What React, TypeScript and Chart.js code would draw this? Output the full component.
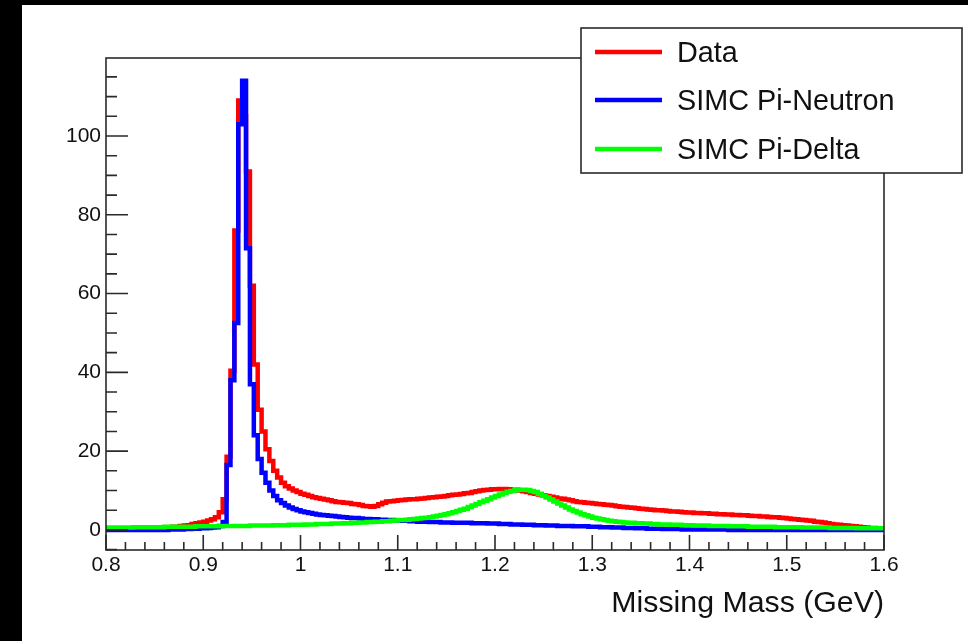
import React, { useEffect, useRef } from "react";
import { Chart, registerables } from "chart.js";

Chart.register(...registerables);

// Histogram binning (GeV)
const X_MIN = 0.8;
const X_MAX = 1.6;
const BIN_WIDTH = 0.004;
const Y_MIN = -5.1;
const Y_MAX = 119.8;

const X_MAJOR_TICKS = [0.8, 0.9, 1.0, 1.1, 1.2, 1.3, 1.4, 1.5, 1.6];
const X_TICK_LABELS = ["0.8", "0.9", "1", "1.1", "1.2", "1.3", "1.4", "1.5", "1.6"];
const X_MINOR_STEP = 0.02;
const Y_MAJOR_TICKS = [0, 20, 40, 60, 80, 100];
const Y_TICK_LABELS = ["0", "20", "40", "60", "80", "100"];
const Y_MINOR_STEP = 5;

const SERIES_LABELS = ["Data", "SIMC Pi-Neutron", "SIMC Pi-Delta"];
const SERIES_COLORS = ["#ff0000", "#0000ff", "#00ff00"];
const X_TITLE = "Missing Mass (GeV)";

// 200 bins, 0.8 .. 1.6 GeV
const DATA = [
  0.2, 0.3, 0.2, 0.3, 0.3, 0.2, 0.3, 0.4, 0.3, 0.4,
  0.4, 0.5, 0.4, 0.5, 0.6, 0.6, 0.7, 0.8, 0.8, 1.0,
  1.1, 1.2, 1.5, 1.7, 1.9, 2.1, 2.4, 2.7, 3.2, 4.5,
  7.8, 18.6, 40.4, 76, 109, 105, 91, 62, 42, 30.5,
  25, 20.5, 17.5, 15, 13.3, 12, 11.1, 10.5, 10.0, 9.6,
  9.2, 8.9, 8.6, 8.3, 8.1, 7.9, 7.7, 7.5, 7.3, 7.1,
  7.0, 6.9, 6.8, 6.6, 6.5, 6.3, 6.1, 6.0, 5.9, 6.1,
  6.5, 6.9, 7.2, 7.3, 7.4, 7.5, 7.6, 7.7, 7.8, 7.8,
  7.9, 8.0, 8.1, 8.2, 8.3, 8.4, 8.5, 8.6, 8.8, 8.9,
  9.0, 9.1, 9.3, 9.4, 9.6, 9.8, 10.0, 10.1, 10.2, 10.3,
  10.3, 10.4, 10.4, 10.3, 10.2, 10.2, 10.0, 9.8, 9.6, 9.4,
  9.2, 9.0, 8.8, 8.6, 8.4, 8.2, 8.0, 7.9, 7.7, 7.5,
  7.3, 7.1, 7.0, 6.9, 6.8, 6.7, 6.6, 6.5, 6.4, 6.3,
  6.2, 6.0, 5.9, 5.8, 5.7, 5.6, 5.5, 5.4, 5.3, 5.2,
  5.1, 5.0, 5.0, 4.9, 4.8, 4.7, 4.7, 4.6, 4.5, 4.4,
  4.4, 4.3, 4.3, 4.2, 4.2, 4.1, 4.1, 4.0, 4.0, 3.9,
  3.9, 3.8, 3.8, 3.7, 3.7, 3.6, 3.5, 3.5, 3.4, 3.4,
  3.3, 3.2, 3.2, 3.1, 3.0, 2.9, 2.8, 2.7, 2.6, 2.5,
  2.4, 2.3, 2.1, 2.0, 1.9, 1.7, 1.5, 1.4, 1.3, 1.2,
  1.1, 1.0, 0.9, 0.8, 0.7, 0.6, 0.5, 0.5, 0.4, 0.3,
];

const PI_NEUTRON = [
  0, 0, 0, 0, 0, 0, 0, 0, 0, 0,
  0, 0, 0, 0, 0, 0, 0.1, 0.1, 0.1, 0.1,
  0.2, 0.2, 0.3, 0.3, 0.4, 0.4, 0.5, 0.6, 0.7, 1.0,
  2.0, 16.5, 38, 52.5, 103, 114, 71.5, 37, 24, 18,
  14.5, 12, 10, 8.6, 7.5, 6.8, 6.2, 5.7, 5.3, 5.0,
  4.7, 4.5, 4.3, 4.1, 3.9, 3.8, 3.7, 3.6, 3.5, 3.4,
  3.3, 3.2, 3.1, 3.0, 3.0, 2.9, 2.8, 2.8, 2.7, 2.7,
  2.6, 2.6, 2.5, 2.5, 2.4, 2.4, 2.3, 2.3, 2.2, 2.2,
  2.1, 2.1, 2.1, 2.0, 2.0, 2.0, 1.9, 1.9, 1.9, 1.8,
  1.8, 1.8, 1.8, 1.8, 1.7, 1.7, 1.7, 1.7, 1.6, 1.6,
  1.6, 1.5, 1.5, 1.5, 1.4, 1.4, 1.4, 1.3, 1.3, 1.3,
  1.2, 1.2, 1.2, 1.1, 1.1, 1.1, 1.0, 1.0, 1.0, 1.0,
  0.9, 0.9, 0.9, 0.9, 0.8, 0.8, 0.8, 0.7, 0.7, 0.7,
  0.6, 0.6, 0.6, 0.5, 0.5, 0.5, 0.4, 0.4, 0.4, 0.3,
  0.3, 0.3, 0.3, 0.2, 0.2, 0.2, 0.2, 0.2, 0.1, 0.1,
  0.1, 0.1, 0.1, 0.1, 0.1, 0.1, 0.1, 0.1, 0.1, 0.1,
  0, 0, 0, 0, 0, 0, 0, 0, 0, 0,
  0, 0, 0, 0, 0, 0, 0, 0, 0, 0,
  0, 0, 0, 0, 0, 0, 0, 0, 0, 0,
  0, 0, 0, 0, 0, 0, 0, 0, 0, 0,
];

const PI_DELTA = [
  0.6, 0.6, 0.6, 0.6, 0.6, 0.6, 0.6, 0.7, 0.7, 0.7,
  0.7, 0.7, 0.7, 0.7, 0.7, 0.8, 0.8, 0.8, 0.8, 0.8,
  0.8, 0.8, 0.8, 0.9, 0.9, 0.9, 0.9, 0.9, 0.9, 0.9,
  1.0, 1.0, 1.0, 1.0, 1.0, 1.0, 1.0, 1.1, 1.1, 1.1,
  1.1, 1.1, 1.1, 1.2, 1.2, 1.2, 1.2, 1.3, 1.3, 1.3,
  1.3, 1.4, 1.4, 1.4, 1.5, 1.5, 1.5, 1.5, 1.6, 1.6,
  1.6, 1.7, 1.7, 1.8, 1.8, 1.9, 1.9, 2.0, 2.0, 2.1,
  2.1, 2.2, 2.2, 2.3, 2.4, 2.5, 2.5, 2.6, 2.7, 2.8,
  2.9, 3.0, 3.1, 3.2, 3.4, 3.6, 3.8, 4.0, 4.2, 4.5,
  4.8, 5.1, 5.4, 5.8, 6.2, 6.6, 7.0, 7.4, 7.8, 8.2,
  8.6, 9.0, 9.4, 9.7, 9.9, 10.1, 10.2, 10.2, 10.1, 9.9,
  9.6, 9.2, 8.7, 8.2, 7.7, 7.2, 6.7, 6.2, 5.7, 5.2,
  4.8, 4.4, 4.0, 3.7, 3.4, 3.1, 2.9, 2.7, 2.5, 2.3,
  2.2, 2.1, 2.0, 1.9, 1.8, 1.8, 1.7, 1.7, 1.6, 1.6,
  1.5, 1.5, 1.4, 1.4, 1.4, 1.3, 1.3, 1.3, 1.2, 1.2,
  1.2, 1.1, 1.1, 1.1, 1.1, 1.0, 1.0, 1.0, 1.0, 1.0,
  0.9, 0.9, 0.9, 0.9, 0.9, 0.8, 0.8, 0.8, 0.8, 0.8,
  0.8, 0.8, 0.7, 0.7, 0.7, 0.7, 0.7, 0.7, 0.7, 0.6,
  0.6, 0.6, 0.6, 0.6, 0.6, 0.6, 0.5, 0.5, 0.5, 0.5,
  0.5, 0.5, 0.5, 0.4, 0.4, 0.4, 0.4, 0.4, 0.4, 0.4,
];

const FONT = "'Liberation Sans', Arial, Helvetica, sans-serif";

function histPoints(values: number[]) {
  const pts = values.map((v, k) => ({ x: +(X_MIN + k * BIN_WIDTH).toFixed(4), y: v }));
  pts.push({ x: X_MAX, y: values[values.length - 1] });
  return pts;
}

const xTickValues: number[] = [];
for (let i = 0; X_MIN + i * X_MINOR_STEP <= X_MAX + 1e-9; i++) {
  xTickValues.push(+(X_MIN + i * X_MINOR_STEP).toFixed(4));
}
const yTickValues: number[] = [];
for (let v = Math.ceil(Y_MIN / Y_MINOR_STEP) * Y_MINOR_STEP; v <= Y_MAX; v += Y_MINOR_STEP) {
  yTickValues.push(v);
}

const rootPlugin = {
  id: "rootFrame",
  afterDatasetsDraw(chart: any) {
    const { ctx, chartArea: a, scales } = chart;
    const xs = scales.x;
    const ys = scales.y;
    ctx.save();
    // frame
    ctx.strokeStyle = "#2a2a2a";
    ctx.lineWidth = 1.6;
    ctx.strokeRect(a.left, a.top, a.right - a.left, a.bottom - a.top);
    // inward ticks
    ctx.beginPath();
    ys.ticks.forEach((t: any) => {
      const p = ys.getPixelForValue(t.value);
      const major = Y_MAJOR_TICKS.some((m) => Math.abs(m - t.value) < 1e-6);
      ctx.moveTo(a.left, p);
      ctx.lineTo(a.left + (major ? 22 : 11), p);
    });
    xs.ticks.forEach((t: any) => {
      const p = xs.getPixelForValue(t.value);
      const major = X_MAJOR_TICKS.some((m) => Math.abs(m - t.value) < 1e-6);
      ctx.moveTo(p, a.bottom);
      ctx.lineTo(p, a.bottom - (major ? 15 : 8));
    });
    ctx.stroke();

    // legend box
    const bx = 559, by = 23, bw = 381, bh = 145;
    ctx.fillStyle = "#ffffff";
    ctx.fillRect(bx, by, bw, bh);
    ctx.strokeStyle = "#2a2a2a";
    ctx.lineWidth = 1.6;
    ctx.strokeRect(bx, by, bw, bh);
    const rows = [47, 95, 144];
    chart.data.datasets.forEach((ds: any, i: number) => {
      const y = rows[i];
      ctx.strokeStyle = ds.borderColor;
      ctx.lineWidth = 4.5;
      ctx.beginPath();
      ctx.moveTo(573, y);
      ctx.lineTo(640, y);
      ctx.stroke();
      ctx.fillStyle = "#111";
      ctx.font = `28.8px ${FONT}`;
      ctx.textBaseline = "middle";
      ctx.textAlign = "left";
      ctx.fillText(ds.label, 655, y + 2);
    });
    ctx.restore();
  },
};

export default function App() {
  const ref = useRef<HTMLCanvasElement | null>(null);

  useEffect(() => {
    if (!ref.current) return;
    const series = [DATA, PI_NEUTRON, PI_DELTA];
    const chart = new Chart(ref.current, {
      type: "line",
      data: {
        datasets: series.map((vals, i) => ({
          label: SERIES_LABELS[i],
          data: histPoints(vals),
          borderColor: SERIES_COLORS[i],
          backgroundColor: SERIES_COLORS[i],
          borderWidth: 4.5,
          pointRadius: 0,
          stepped: "before" as const,
          fill: false,
          order: 3 - i,
          borderJoinStyle: "miter" as const,
        })),
      },
      options: {
        responsive: false,
        animation: false,
        events: [],
        layout: { padding: { left: 0, top: 53, right: 84, bottom: 0 } },
        plugins: {
          legend: { display: false },
          tooltip: { enabled: false },
        },
        scales: {
          x: {
            type: "linear",
            min: X_MIN,
            max: X_MAX,
            grid: { display: false, drawTicks: false },
            border: { display: false },
            afterBuildTicks: (scale: any) => {
              scale.ticks = xTickValues.map((v) => ({ value: v }));
            },
            afterFit: (scale: any) => {
              scale.height = 91;
            },
            ticks: {
              autoSkip: false,
              maxRotation: 0,
              minRotation: 0,
              padding: 3,
              color: "#111",
              font: { family: FONT, size: 21 },
              callback: (value: any) => {
                const idx = X_MAJOR_TICKS.findIndex((m) => Math.abs(m - value) < 1e-6);
                return idx >= 0 ? X_TICK_LABELS[idx] : "";
              },
            },
            title: {
              display: true,
              text: X_TITLE,
              align: "end",
              color: "#111",
              font: { family: FONT, size: 30.3 },
              padding: { top: 0, bottom: 19 },
            },
          },
          y: {
            type: "linear",
            min: Y_MIN,
            max: Y_MAX,
            grid: { display: false, drawTicks: false },
            border: { display: false },
            afterBuildTicks: (scale: any) => {
              scale.ticks = yTickValues.map((v) => ({ value: v }));
            },
            afterFit: (scale: any) => {
              scale.width = 84;
            },
            ticks: {
              autoSkip: false,
              padding: 5,
              color: "#111",
              font: { family: FONT, size: 21 },
              callback: (value: any) => {
                const idx = Y_MAJOR_TICKS.findIndex((m) => Math.abs(m - value) < 1e-6);
                return idx >= 0 ? Y_TICK_LABELS[idx] : "";
              },
            },
          },
        },
      },
      plugins: [rootPlugin],
    });
    return () => chart.destroy();
  }, []);

  return (
    <div
      style={{
        position: "fixed",
        left: 0,
        top: 0,
        width: 968,
        height: 641,
        background: "#000",
        overflow: "hidden",
      }}
    >
      <div
        style={{
          position: "absolute",
          left: 22,
          top: 5,
          width: 946,
          height: 636,
          background: "#fff",
        }}
      >
        <canvas ref={ref} width={946} height={636} style={{ display: "block", width: 946, height: 636 }} />
      </div>
    </div>
  );
}
